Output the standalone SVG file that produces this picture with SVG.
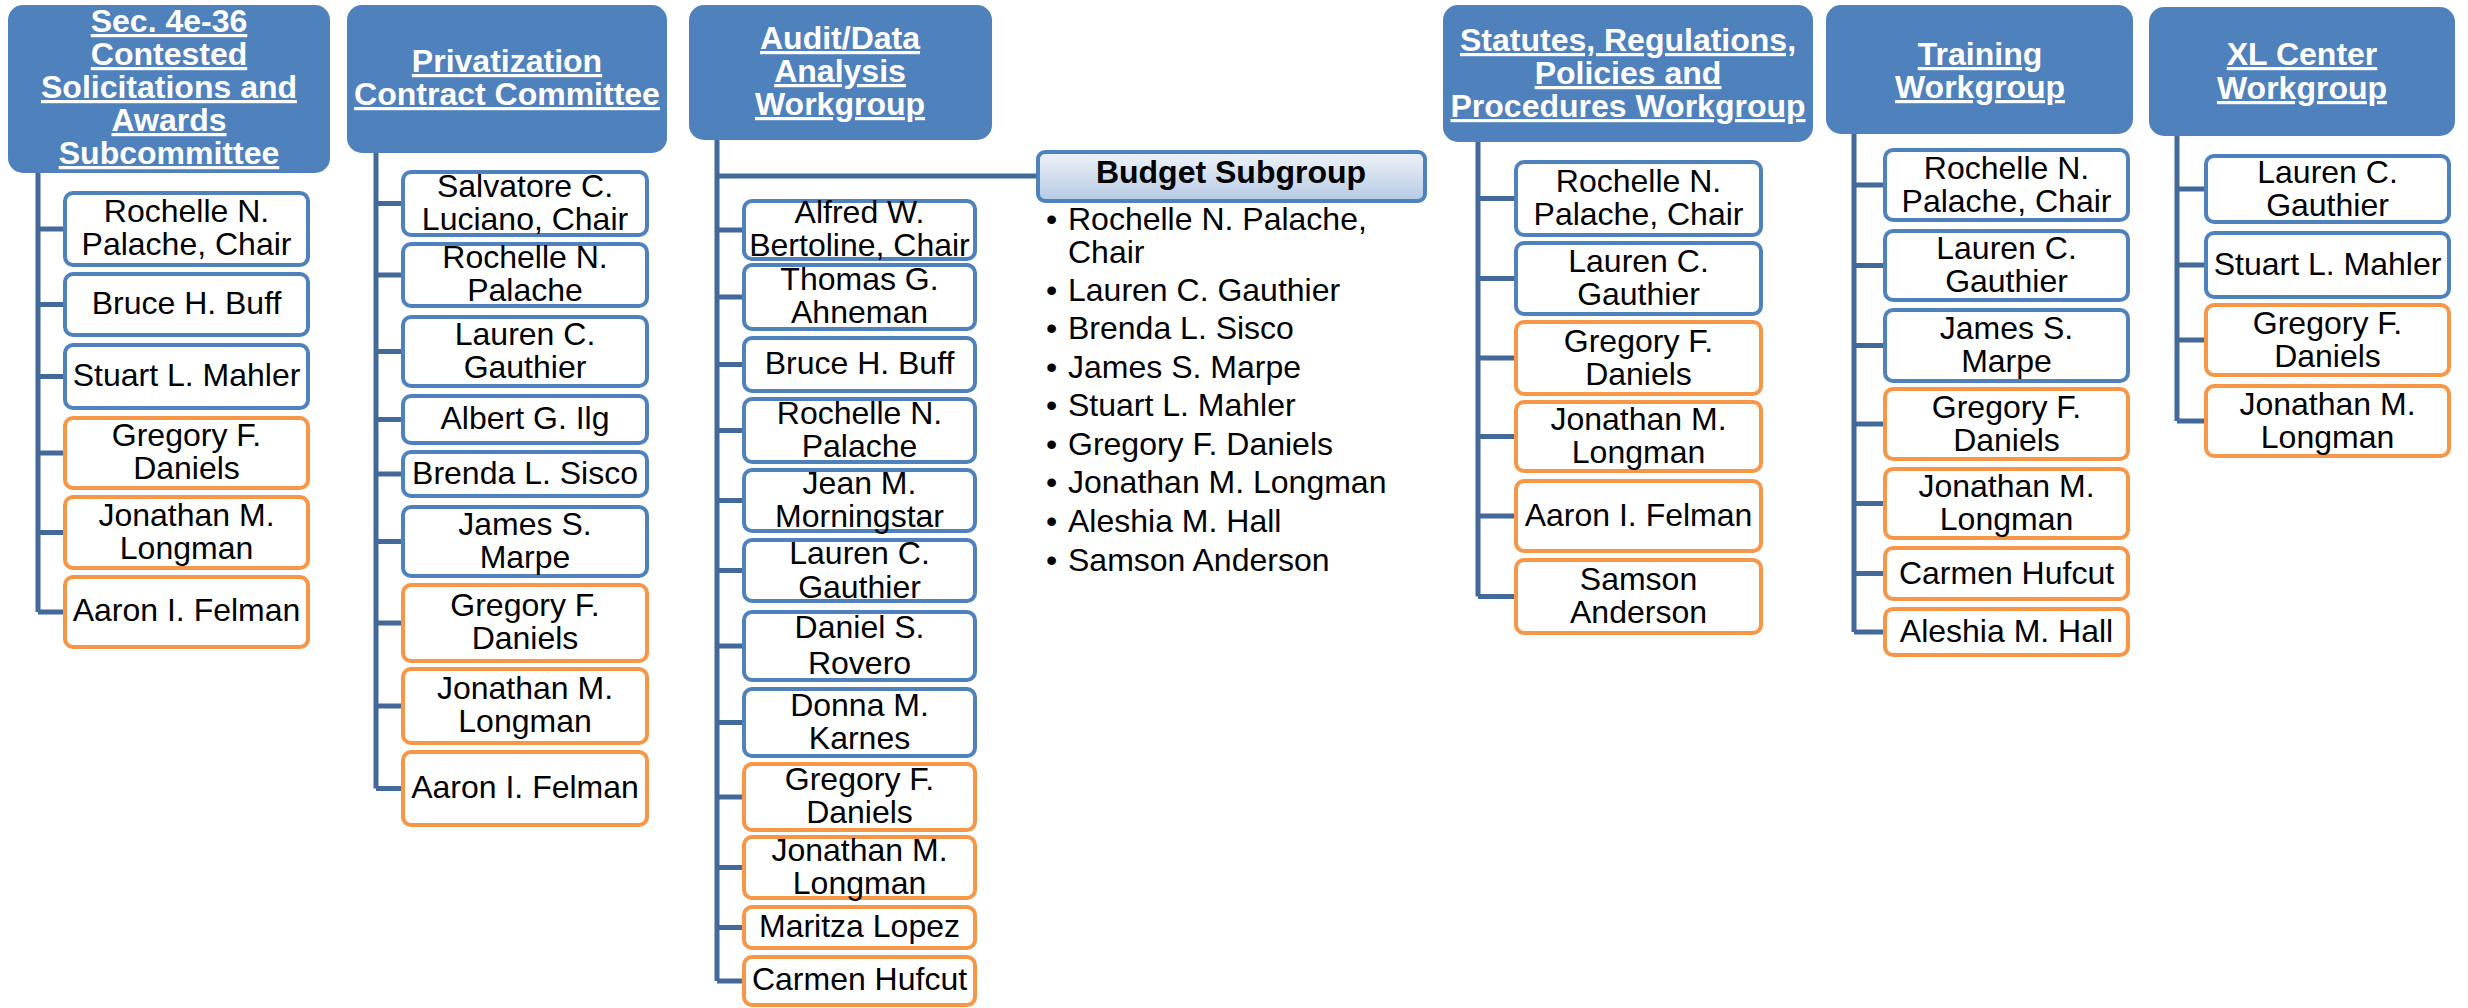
<svg xmlns="http://www.w3.org/2000/svg" width="2468" height="1008" viewBox="0 0 2468 1008">
<defs>
<linearGradient id="bg" x1="0" y1="0" x2="0" y2="1">
<stop offset="0" stop-color="#EEF3F9"/>
<stop offset="1" stop-color="#B5C9E3"/>
</linearGradient>
<style>
.hdr{fill:#4F81BD}
.ht{font-family:"Liberation Sans",Arial,sans-serif;font-weight:bold;font-size:32px;fill:#FFFFFF;text-decoration:underline;text-anchor:middle}
.mb{fill:#FFFFFF;stroke:#4F81BD;stroke-width:4}
.mo{fill:#FFFFFF;stroke:#F79646;stroke-width:4}
.mt{font-family:"Liberation Sans",Arial,sans-serif;font-size:32px;fill:#000000;text-anchor:middle}
.bt{font-family:"Liberation Sans",Arial,sans-serif;font-size:32px;fill:#000000}
.conn{stroke:#43699B;stroke-width:5;fill:none}
</style>
</defs>
<rect x="0" y="0" width="2468" height="1008" fill="#FFFFFF"/>

<g id="connectors">
<path class="conn" d="M38 173V612M38 229H63M38 304.5H63M38 376.5H63M38 453H63M38 532.5H63M38 612H63"/>
<path class="conn" d="M376 153V788.5M376 203.5H401M376 275H401M376 351.5H401M376 419.5H401M376 474H401M376 541.5H401M376 623H401M376 706H401M376 788.5H401"/>
<path class="conn" d="M717 140V981M717 176H1036M717 230H742M717 297H742M717 364.5H742M717 430.5H742M717 500.5H742M717 570.5H742M717 646H742M717 722.5H742M717 797H742M717 867.5H742M717 927.5H742M717 981H742"/>
<path class="conn" d="M1478 142V596.5M1478 198.5H1514M1478 278.5H1514M1478 358H1514M1478 436.5H1514M1478 516H1514M1478 596.5H1514"/>
<path class="conn" d="M1854 134V632M1854 185H1883M1854 265.5H1883M1854 345.5H1883M1854 424H1883M1854 503.5H1883M1854 573.5H1883M1854 632H1883"/>
<path class="conn" d="M2177 136V421M2177 189H2204M2177 265H2204M2177 340H2204M2177 421H2204"/>
</g>

<g id="col1">
<g id="h1"><rect class="hdr" x="8" y="5" width="322" height="168" rx="15"/>
<text class="ht" x="169" y="32">Sec. 4e-36</text>
<text class="ht" x="169" y="65">Contested</text>
<text class="ht" x="169" y="98">Solicitations and</text>
<text class="ht" x="169" y="131">Awards</text>
<text class="ht" x="169" y="164">Subcommittee</text></g>
<g id="c1m1"><rect class="mb" x="65" y="193" width="243" height="72" rx="8"/><text class="mt" x="186.5" y="222">Rochelle N.</text><text class="mt" x="186.5" y="255">Palache, Chair</text></g>
<g id="c1m2"><rect class="mb" x="65" y="274" width="243" height="61" rx="8"/><text class="mt" x="186.5" y="313.5">Bruce H. Buff</text></g>
<g id="c1m3"><rect class="mb" x="65" y="345" width="243" height="63" rx="8"/><text class="mt" x="186.5" y="385.5">Stuart L. Mahler</text></g>
<g id="c1m4"><rect class="mo" x="65" y="418" width="243" height="70" rx="8"/><text class="mt" x="186.5" y="446">Gregory F.</text><text class="mt" x="186.5" y="479">Daniels</text></g>
<g id="c1m5"><rect class="mo" x="65" y="497" width="243" height="71" rx="8"/><text class="mt" x="186.5" y="526">Jonathan M.</text><text class="mt" x="186.5" y="559">Longman</text></g>
<g id="c1m6"><rect class="mo" x="65" y="577" width="243" height="70" rx="8"/><text class="mt" x="186.5" y="621">Aaron I. Felman</text></g>
</g>

<g id="col2">
<g id="h2"><rect class="hdr" x="347" y="5" width="320" height="148" rx="15"/>
<text class="ht" x="507" y="72">Privatization</text>
<text class="ht" x="507" y="105">Contract Committee</text></g>
<g id="c2m1"><rect class="mb" x="403" y="172" width="244" height="63" rx="8"/><text class="mt" x="525" y="196.5">Salvatore C.</text><text class="mt" x="525" y="229.5">Luciano, Chair</text></g>
<g id="c2m2"><rect class="mb" x="403" y="244" width="244" height="62" rx="8"/><text class="mt" x="525" y="268">Rochelle N.</text><text class="mt" x="525" y="301">Palache</text></g>
<g id="c2m3"><rect class="mb" x="403" y="317" width="244" height="69" rx="8"/><text class="mt" x="525" y="344.5">Lauren C.</text><text class="mt" x="525" y="377.5">Gauthier</text></g>
<g id="c2m4"><rect class="mb" x="403" y="396" width="244" height="47" rx="8"/><text class="mt" x="525" y="429">Albert G. Ilg</text></g>
<g id="c2m5"><rect class="mb" x="403" y="452" width="244" height="44" rx="8"/><text class="mt" x="525" y="483.5">Brenda L. Sisco</text></g>
<g id="c2m6"><rect class="mb" x="403" y="507" width="244" height="69" rx="8"/><text class="mt" x="525" y="534.5">James S.</text><text class="mt" x="525" y="567.5">Marpe</text></g>
<g id="c2m7"><rect class="mo" x="403" y="585" width="244" height="76" rx="8"/><text class="mt" x="525" y="616">Gregory F.</text><text class="mt" x="525" y="649">Daniels</text></g>
<g id="c2m8"><rect class="mo" x="403" y="669" width="244" height="74" rx="8"/><text class="mt" x="525" y="699">Jonathan M.</text><text class="mt" x="525" y="732">Longman</text></g>
<g id="c2m9"><rect class="mo" x="403" y="752" width="244" height="73" rx="8"/><text class="mt" x="525" y="798">Aaron I. Felman</text></g>
</g>

<g id="col3">
<g id="h3"><rect class="hdr" x="689" y="5" width="303" height="135" rx="15"/>
<text class="ht" x="840" y="49">Audit/Data</text>
<text class="ht" x="840" y="82">Analysis</text>
<text class="ht" x="840" y="115">Workgroup</text></g>
<g id="c3m1"><rect class="mb" x="744" y="201" width="231" height="58" rx="8"/><text class="mt" x="859.5" y="223">Alfred W.</text><text class="mt" x="859.5" y="256">Bertoline, Chair</text></g>
<g id="c3m2"><rect class="mb" x="744" y="265" width="231" height="64" rx="8"/><text class="mt" x="859.5" y="290">Thomas G.</text><text class="mt" x="859.5" y="323">Ahneman</text></g>
<g id="c3m3"><rect class="mb" x="744" y="338" width="231" height="53" rx="8"/><text class="mt" x="859.5" y="374">Bruce H. Buff</text></g>
<g id="c3m4"><rect class="mb" x="744" y="399" width="231" height="63" rx="8"/><text class="mt" x="859.5" y="423.5">Rochelle N.</text><text class="mt" x="859.5" y="456.5">Palache</text></g>
<g id="c3m5"><rect class="mb" x="744" y="470" width="231" height="61" rx="8"/><text class="mt" x="859.5" y="493.5">Jean M.</text><text class="mt" x="859.5" y="526.5">Morningstar</text></g>
<g id="c3m6"><rect class="mb" x="744" y="540" width="231" height="61" rx="8"/><text class="mt" x="859.5" y="563.5">Lauren C.</text><text class="mt" x="859.5" y="597.5">Gauthier</text></g>
<g id="c3m7"><rect class="mb" x="744" y="612" width="231" height="68" rx="8"/><text class="mt" x="859.5" y="638">Daniel S.</text><text class="mt" x="859.5" y="674">Rovero</text></g>
<g id="c3m8"><rect class="mb" x="744" y="689" width="231" height="67" rx="8"/><text class="mt" x="859.5" y="715.5">Donna M.</text><text class="mt" x="859.5" y="748.5">Karnes</text></g>
<g id="c3m9"><rect class="mo" x="744" y="764" width="231" height="66" rx="8"/><text class="mt" x="859.5" y="790">Gregory F.</text><text class="mt" x="859.5" y="823">Daniels</text></g>
<g id="c3m10"><rect class="mo" x="744" y="837" width="231" height="61" rx="8"/><text class="mt" x="859.5" y="860.5">Jonathan M.</text><text class="mt" x="859.5" y="893.5">Longman</text></g>
<g id="c3m11"><rect class="mo" x="744" y="907" width="231" height="41" rx="8"/><text class="mt" x="859.5" y="937">Maritza Lopez</text></g>
<g id="c3m12"><rect class="mo" x="744" y="957" width="231" height="48" rx="8"/><text class="mt" x="859.5" y="990">Carmen Hufcut</text></g>
<g id="budget"><rect x="1038" y="152" width="387" height="49" rx="7" fill="url(#bg)" stroke="#4F81BD" stroke-width="4"/>
<text x="1231" y="183" font-family="Liberation Sans, Arial, sans-serif" font-weight="bold" font-size="32" text-anchor="middle" fill="#000000">Budget Subgroup</text>
<text class="bt" x="1046" y="230">•</text><text class="bt" x="1068" y="230">Rochelle N. Palache,</text>
<text class="bt" x="1068" y="263">Chair</text>
<text class="bt" x="1046" y="301">•</text><text class="bt" x="1068" y="301">Lauren C. Gauthier</text>
<text class="bt" x="1046" y="339">•</text><text class="bt" x="1068" y="339">Brenda L. Sisco</text>
<text class="bt" x="1046" y="378">•</text><text class="bt" x="1068" y="378">James S. Marpe</text>
<text class="bt" x="1046" y="416">•</text><text class="bt" x="1068" y="416">Stuart L. Mahler</text>
<text class="bt" x="1046" y="455">•</text><text class="bt" x="1068" y="455">Gregory F. Daniels</text>
<text class="bt" x="1046" y="493">•</text><text class="bt" x="1068" y="493">Jonathan M. Longman</text>
<text class="bt" x="1046" y="532">•</text><text class="bt" x="1068" y="532">Aleshia M. Hall</text>
<text class="bt" x="1046" y="571">•</text><text class="bt" x="1068" y="571">Samson Anderson</text></g>
</g>

<g id="col4">
<g id="h4"><rect class="hdr" x="1443" y="5" width="370" height="137" rx="15"/>
<text class="ht" x="1628" y="51">Statutes, Regulations,</text>
<text class="ht" x="1628" y="84">Policies and</text>
<text class="ht" x="1628" y="117">Procedures Workgroup</text></g>
<g id="c4m1"><rect class="mb" x="1516" y="162" width="245" height="73" rx="8"/><text class="mt" x="1638.5" y="192">Rochelle N.</text><text class="mt" x="1638.5" y="225">Palache, Chair</text></g>
<g id="c4m2"><rect class="mb" x="1516" y="243" width="245" height="71" rx="8"/><text class="mt" x="1638.5" y="272">Lauren C.</text><text class="mt" x="1638.5" y="305">Gauthier</text></g>
<g id="c4m3"><rect class="mo" x="1516" y="322" width="245" height="72" rx="8"/><text class="mt" x="1638.5" y="351.5">Gregory F.</text><text class="mt" x="1638.5" y="384.5">Daniels</text></g>
<g id="c4m4"><rect class="mo" x="1516" y="402" width="245" height="69" rx="8"/><text class="mt" x="1638.5" y="430">Jonathan M.</text><text class="mt" x="1638.5" y="463">Longman</text></g>
<g id="c4m5"><rect class="mo" x="1516" y="481" width="245" height="70" rx="8"/><text class="mt" x="1638.5" y="526">Aaron I. Felman</text></g>
<g id="c4m6"><rect class="mo" x="1516" y="560" width="245" height="73" rx="8"/><text class="mt" x="1638.5" y="590">Samson</text><text class="mt" x="1638.5" y="623">Anderson</text></g>
</g>

<g id="col5">
<g id="h5"><rect class="hdr" x="1826" y="5" width="307" height="129" rx="15"/>
<text class="ht" x="1980" y="65">Training</text>
<text class="ht" x="1980" y="98">Workgroup</text></g>
<g id="c5m1"><rect class="mb" x="1885" y="150" width="243" height="70" rx="8"/><text class="mt" x="2006.5" y="178.5">Rochelle N.</text><text class="mt" x="2006.5" y="211.5">Palache, Chair</text></g>
<g id="c5m2"><rect class="mb" x="1885" y="231" width="243" height="69" rx="8"/><text class="mt" x="2006.5" y="259">Lauren C.</text><text class="mt" x="2006.5" y="292">Gauthier</text></g>
<g id="c5m3"><rect class="mb" x="1885" y="310" width="243" height="71" rx="8"/><text class="mt" x="2006.5" y="339">James S.</text><text class="mt" x="2006.5" y="372">Marpe</text></g>
<g id="c5m4"><rect class="mo" x="1885" y="389" width="243" height="70" rx="8"/><text class="mt" x="2006.5" y="417.5">Gregory F.</text><text class="mt" x="2006.5" y="450.5">Daniels</text></g>
<g id="c5m5"><rect class="mo" x="1885" y="469" width="243" height="69" rx="8"/><text class="mt" x="2006.5" y="497">Jonathan M.</text><text class="mt" x="2006.5" y="530">Longman</text></g>
<g id="c5m6"><rect class="mo" x="1885" y="548" width="243" height="51" rx="8"/><text class="mt" x="2006.5" y="583.5">Carmen Hufcut</text></g>
<g id="c5m7"><rect class="mo" x="1885" y="609" width="243" height="46" rx="8"/><text class="mt" x="2006.5" y="642">Aleshia M. Hall</text></g>
</g>

<g id="col6">
<g id="h6"><rect class="hdr" x="2149" y="7" width="306" height="129" rx="15"/>
<text class="ht" x="2302" y="65">XL Center</text>
<text class="ht" x="2302" y="99">Workgroup</text></g>
<g id="c6m1"><rect class="mb" x="2206" y="156" width="243" height="66" rx="8"/><text class="mt" x="2327.5" y="182.5">Lauren C.</text><text class="mt" x="2327.5" y="215.5">Gauthier</text></g>
<g id="c6m2"><rect class="mb" x="2206" y="233" width="243" height="64" rx="8"/><text class="mt" x="2327.5" y="275">Stuart L. Mahler</text></g>
<g id="c6m3"><rect class="mo" x="2206" y="305" width="243" height="70" rx="8"/><text class="mt" x="2327.5" y="333.5">Gregory F.</text><text class="mt" x="2327.5" y="366.5">Daniels</text></g>
<g id="c6m4"><rect class="mo" x="2206" y="386" width="243" height="70" rx="8"/><text class="mt" x="2327.5" y="414.5">Jonathan M.</text><text class="mt" x="2327.5" y="447.5">Longman</text></g>
</g>
</svg>
